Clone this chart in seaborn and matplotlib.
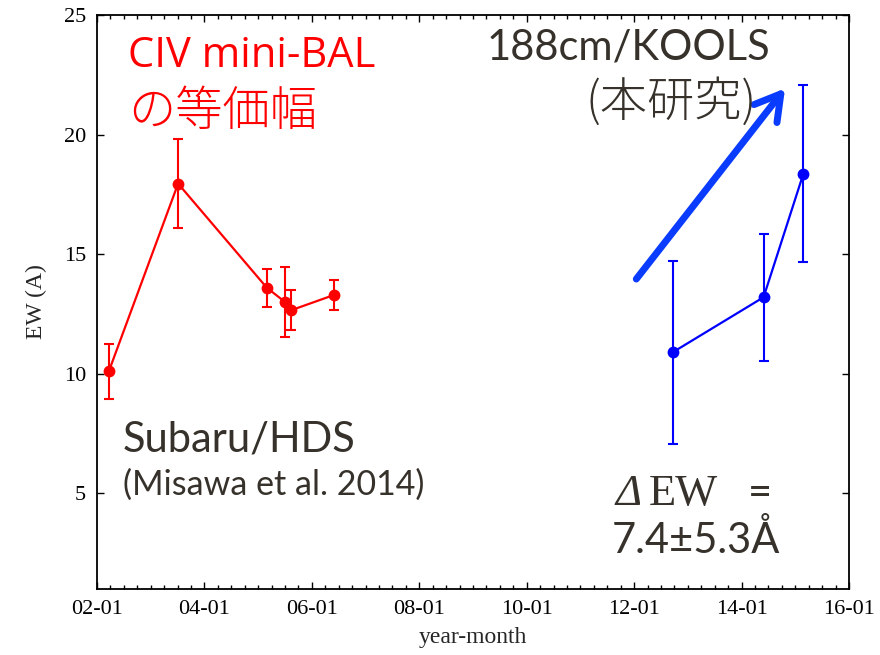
import matplotlib
matplotlib.use("Agg")
import matplotlib.pyplot as plt
import seaborn as sns
import pandas as pd
import numpy as np
from matplotlib.ticker import MultipleLocator

# ---- data ----
subaru_year = [2002.22, 2003.51, 2005.16, 2005.50, 2005.62, 2006.42]
subaru_ew = [10.1, 17.95, 13.6, 13.0, 12.66, 13.3]
subaru_err = [1.15, 1.85, 0.8, 1.45, 0.84, 0.62]

kools_year = [2012.72, 2014.41, 2015.15]
kools_ew = [10.9, 13.2, 18.36]
kools_err = [3.83, 2.65, 3.7]

xtick_pos = [2002, 2004, 2006, 2008, 2010, 2012, 2014, 2016]
xtick_labels = ["02-01", "04-01", "06-01", "08-01", "10-01", "12-01", "14-01", "16-01"]
ytick_pos = [5, 10, 15, 20, 25]

arrow_start = (2012.04, 13.96)
arrow_end = (2014.81, 21.93)

sns.set_theme(style="ticks")
plt.rcParams["font.family"] = ["Liberation Serif", "DejaVu Serif"]

W, H = 880, 655
fig = plt.figure(figsize=(W / 100, H / 100), dpi=100)
L, R, T, B = 97, 849, 15, 589
ax = fig.add_axes([L / W, 1 - B / H, (R - L) / W, (B - T) / H])

df_s = pd.DataFrame({"year": subaru_year, "ew": subaru_ew})
df_k = pd.DataFrame({"year": kools_year, "ew": kools_ew})

red = "#ff0000"
blue = "#0000ff"

ax.errorbar(subaru_year, subaru_ew, yerr=subaru_err, fmt="none", ecolor=red,
            elinewidth=1.5, capsize=3.5, capthick=1.5, zorder=2)
ax.errorbar(kools_year, kools_ew, yerr=kools_err, fmt="none", ecolor=blue,
            elinewidth=1.5, capsize=3.5, capthick=1.5, zorder=2)
sns.lineplot(data=df_s, x="year", y="ew", ax=ax, color=red, lw=1.6,
             marker="o", markersize=8.5, markeredgewidth=0, sort=False, zorder=3)
sns.lineplot(data=df_k, x="year", y="ew", ax=ax, color=blue, lw=1.6,
             marker="o", markersize=8.5, markeredgewidth=0, sort=False, zorder=3)

ax.annotate("", xy=arrow_end, xytext=arrow_start,
            arrowprops=dict(arrowstyle="->,head_length=0.6,head_width=0.35",
                            lw=5, color="#0a3cff", shrinkA=0, shrinkB=0,
                            mutation_scale=30))

ax.set_xlim(2002, 2016)
ax.set_ylim(1, 25)
ax.set_xticks(xtick_pos)
ax.set_xticklabels(xtick_labels)
ax.set_yticks(ytick_pos)
ax.xaxis.set_minor_locator(MultipleLocator(0.25))
ax.tick_params(axis="both", which="both", direction="in", top=True, right=True,
               colors="black", labelsize=16, width=1.0)
ax.tick_params(axis="both", which="major", length=5, pad=8)
ax.tick_params(axis="both", which="minor", length=3)
for s in ax.spines.values():
    s.set_linewidth(1.3)
    s.set_color("black")
ax.set_xlabel("year-month", fontsize=17, labelpad=6)
ax.set_ylabel("EW (A)", fontsize=17, labelpad=12)


def ftxt(x, y, s, **kw):
    fig.text(x / W, 1 - y / H, s, va="baseline", **kw)


dark = "#36322b"
ftxt(128, 67, "CIV mini-BAL", color=red, fontsize=30, family=["Open Sans", "DejaVu Sans"])
ftxt(128, 125, "の等価幅", color=red, fontsize=34, fontweight="light",
     family=["Noto Sans CJK JP", "DejaVu Sans"])
ftxt(770, 59, "188cm/KOOLS", color=dark, fontsize=30, ha="right", family=["Lato", "DejaVu Sans"])
ftxt(757, 116, "(本研究)", color=dark, fontsize=34, ha="right", fontweight="light",
     family=["Noto Sans CJK JP", "DejaVu Sans"])
ftxt(123, 452, "Subaru/HDS", color=dark, fontsize=30, family=["Lato", "DejaVu Sans"])
ftxt(123, 495, "(Misawa et al. 2014)", color=dark, fontsize=24.5, family=["Lato", "DejaVu Sans"])
ftxt(615, 505, "Δ", color=dark, fontsize=32, style="italic", family=["Liberation Serif", "DejaVu Serif"])
ftxt(649, 505, "EW", color=dark, fontsize=32, family=["Liberation Serif", "DejaVu Serif"])
ftxt(748, 505, "=", color=dark, fontsize=30, family=["Lato", "DejaVu Sans"])
ftxt(612, 553, "7.4±5.3Å", color=dark, fontsize=30, family=["Lato", "DejaVu Sans"])

fig.savefig("out.png", dpi=100)
